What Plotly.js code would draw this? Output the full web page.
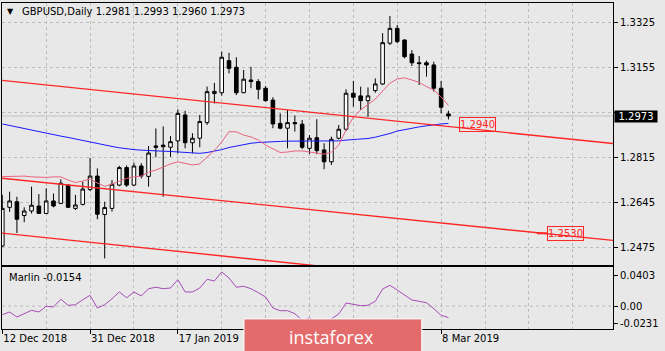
<!DOCTYPE html>
<html><head><meta charset="utf-8">
<script src="https://cdn.plot.ly/plotly-3.0.1.min.js"></script>
<style>html,body{margin:0;padding:0;background:#e8e8e8;}#chart{width:665px;height:351px;}</style>
</head><body><div id="chart"></div>
<script>
const symbolTitle = 'GBPUSD,Daily';
const dates = ['12 Dec 2018','13 Dec 2018','14 Dec 2018','17 Dec 2018','18 Dec 2018','19 Dec 2018','20 Dec 2018','21 Dec 2018','24 Dec 2018','26 Dec 2018','27 Dec 2018','28 Dec 2018','31 Dec 2018',
'2 Jan 2019','3 Jan 2019','4 Jan 2019','7 Jan 2019','8 Jan 2019','9 Jan 2019','10 Jan 2019','11 Jan 2019','14 Jan 2019','15 Jan 2019','16 Jan 2019','17 Jan 2019','18 Jan 2019','21 Jan 2019','22 Jan 2019','23 Jan 2019','24 Jan 2019','25 Jan 2019','28 Jan 2019','29 Jan 2019','30 Jan 2019','31 Jan 2019',
'1 Feb 2019','4 Feb 2019','5 Feb 2019','6 Feb 2019','7 Feb 2019','8 Feb 2019','11 Feb 2019','12 Feb 2019','13 Feb 2019','14 Feb 2019','15 Feb 2019','18 Feb 2019','19 Feb 2019','20 Feb 2019','21 Feb 2019','22 Feb 2019','25 Feb 2019','26 Feb 2019','27 Feb 2019','28 Feb 2019',
'1 Mar 2019','4 Mar 2019','5 Mar 2019','6 Mar 2019','7 Mar 2019','8 Mar 2019','11 Mar 2019'];
const openP = [1.2482,1.2628,1.2649,1.2597,1.2614,1.2633,1.2605,1.2652,1.2643,1.2712,1.2624,1.2639,1.2695,1.2746,1.2601,1.2624,1.2712,1.2778,1.2712,1.2784,1.2745,1.2860,1.2863,1.2855,1.2879,1.2977,1.2872,1.2889,1.2948,1.3058,1.3061,1.3182,1.3157,1.3061,1.3109,1.3103,1.3078,1.3033,1.2945,1.2927,1.2948,1.2942,1.2851,1.2891,1.2845,1.2800,1.2889,1.2923,1.3059,1.3049,1.3031,1.3069,1.3094,1.3248,1.3304,1.3260,1.3207,1.3174,1.3174,1.3166,1.3078,1.2981];
const highP = [1.2675,1.2687,1.2668,1.2628,1.2706,1.2678,1.2700,1.2680,1.2734,1.2714,1.2675,1.2725,1.2815,1.2775,1.2649,1.2731,1.2785,1.2786,1.2797,1.2795,1.2860,1.2926,1.2934,1.2897,1.2998,1.2993,1.2908,1.2977,1.3084,1.3098,1.3216,1.3212,1.3195,1.3147,1.3159,1.3112,1.3086,1.3044,1.2983,1.2996,1.2975,1.2958,1.2901,1.2961,1.2870,1.2895,1.2939,1.3074,1.3106,1.3084,1.3081,1.3115,1.3286,1.3351,1.3317,1.3263,1.3222,1.3200,1.3182,1.3178,1.3106,1.2993];
const lowP = [1.2478,1.2611,1.2531,1.2572,1.2605,1.2605,1.2603,1.2628,1.2640,1.2626,1.2618,1.2635,1.2690,1.2583,1.2435,1.2612,1.2708,1.2705,1.2708,1.2737,1.2706,1.2817,1.2668,1.2819,1.2832,1.2851,1.2832,1.2855,1.2939,1.3020,1.3050,1.3134,1.3052,1.3059,1.3078,1.3036,1.3027,1.2927,1.2923,1.2851,1.2914,1.2848,1.2829,1.2829,1.2772,1.2788,1.2884,1.2916,1.3008,1.2996,1.2970,1.3061,1.3090,1.3241,1.3248,1.3191,1.3162,1.3090,1.3122,1.3065,1.2983,1.2960];
const closeP = [1.2624,1.2652,1.2583,1.2614,1.2636,1.2605,1.2652,1.2633,1.2719,1.2628,1.2637,1.2697,1.2746,1.2602,1.2627,1.2715,1.2778,1.2712,1.2784,1.2746,1.2833,1.2855,1.2857,1.2876,1.2983,1.2872,1.2889,1.2952,1.3065,1.3066,1.3195,1.3153,1.3061,1.3112,1.3103,1.3074,1.3031,1.2943,1.2927,1.2948,1.2944,1.2855,1.2889,1.2842,1.2800,1.2885,1.2923,1.3059,1.3044,1.3031,1.3049,1.3094,1.3250,1.3304,1.3254,1.3197,1.3174,1.3171,1.3166,1.3078,1.3006,1.2973];
const maSlow = [1.2943,1.2937,1.2931,1.2925,1.2919,1.2914,1.2909,1.2903,1.2897,1.2892,1.2886,1.2880,1.2875,1.2869,1.2863,1.2858,1.2853,1.2849,1.2846,1.2844,1.2842,1.2841,1.2840,1.2839,1.2837,1.2835,1.2833,1.2832,1.2835,1.2840,1.2846,1.2854,1.2860,1.2865,1.2870,1.2873,1.2875,1.2876,1.2877,1.2878,1.2878,1.2879,1.2879,1.2878,1.2877,1.2878,1.2879,1.2882,1.2884,1.2886,1.2888,1.2893,1.2899,1.2907,1.2916,1.2922,1.2928,1.2932,1.2936,1.2940,1.2943,1.2945];
const maFast = [1.2744,1.2744,1.2745,1.2746,1.2743,1.2741,1.2741,1.2743,1.2743,1.2731,1.2722,1.2727,1.2735,1.2720,1.2707,1.2716,1.2726,1.2737,1.2743,1.2746,1.2761,1.2769,1.2780,1.2792,1.2800,1.2795,1.2788,1.2792,1.2818,1.2843,1.2875,1.2914,1.2913,1.2901,1.2894,1.2882,1.2863,1.2848,1.2835,1.2837,1.2841,1.2841,1.2837,1.2835,1.2829,1.2837,1.2863,1.2920,1.2969,1.2996,1.3015,1.3037,1.3067,1.3097,1.3113,1.3117,1.3109,1.3100,1.3084,1.3071,1.3045,1.3013];
const marlin = [-0.0116,-0.0079,-0.0147,-0.0102,-0.0057,-0.0079,-0.0003,-0.0012,0.0091,0.0010,0.0018,0.0085,0.0144,-0.0026,0.0018,0.0099,0.0189,0.0112,0.0189,0.0135,0.0233,0.0252,0.0233,0.0242,0.0353,0.0189,0.0189,0.0242,0.0359,0.0336,0.0457,0.0376,0.0252,0.0265,0.0233,0.0179,0.0122,-0.0026,-0.0062,-0.0062,-0.0102,-0.0191,-0.0160,-0.0214,-0.0227,-0.0173,-0.0106,0.0041,0.0018,0.0005,0.0010,0.0064,0.0229,0.0278,0.0215,0.0142,0.0081,0.0064,0.0045,-0.0035,-0.0124,-0.0154];
// channel lines (bar-index endpoints, price endpoints)
const trendIdx = [-0.5, 83.5];
const upperLine = [1.3109, 1.2869];
const middleLine = [1.2739, 1.2503];
const lowerLine = [1.2532, 1.2291];
const levelValues = [1.2940, 1.2530];
const priceTicks = [1.2475, 1.2645, 1.2815, 1.2985, 1.3155, 1.3325];
const hiddenPriceTick = 1.2985;   // covered by the current-price box in the reference
const marlinTicks = [-0.0231, 0, 0.0403];
const marlinTickText = ['-0.0231', '0.00', '0.0403'];
const dateTickIdx = [0, 12, 24, 36, 48, 60];
const hiddenDateTickIdx = [36, 48]; // covered by the watermark in the reference

const idx = dates.map((d, i) => i);
const F = 'DejaVu Sans';
const gridC = '#bcbcbc';
const last = closeP.length - 1;
const redC = '#ff2626';

const traces = [
  {type:'candlestick', x: idx, open: openP, high: highP, low: lowP, close: closeP, xaxis:'x', yaxis:'y',
   increasing:{line:{color:'#000000', width:1}, fillcolor:'#ffffff'},
   decreasing:{line:{color:'#000000', width:1}, fillcolor:'#000000'},
   whiskerwidth:0, hoverinfo:'skip', showlegend:false},
  {type:'scatter', mode:'lines', x: idx, y: maSlow, xaxis:'x', yaxis:'y', line:{color:'#1a1aff', width:1}, hoverinfo:'skip', showlegend:false},
  {type:'scatter', mode:'lines', x: idx, y: maFast, xaxis:'x', yaxis:'y', line:{color:'rgb(232,98,128)', width:1}, hoverinfo:'skip', showlegend:false},
  {type:'scatter', mode:'lines', x: trendIdx, y: upperLine, xaxis:'x', yaxis:'y', line:{color:redC, width:1.4}, hoverinfo:'skip', showlegend:false},
  {type:'scatter', mode:'lines', x: trendIdx, y: middleLine, xaxis:'x', yaxis:'y', line:{color:redC, width:1.4}, hoverinfo:'skip', showlegend:false},
  {type:'scatter', mode:'lines', x: trendIdx, y: lowerLine, xaxis:'x', yaxis:'y', line:{color:redC, width:1.4}, hoverinfo:'skip', showlegend:false},
  {type:'scatter', mode:'lines', x: idx, y: marlin, xaxis:'x2', yaxis:'y2', line:{color:'#a64bb8', width:1}, hoverinfo:'skip', showlegend:false}
];

const xRange = [-0.04, 83.5];
const layout = {
  width:665, height:351,
  margin:{l:2, r:52, t:3, b:22},
  paper_bgcolor:'#e8e8e8', plot_bgcolor:'#e8e8e8',
  showlegend:false,
  font:{family:F, size:10, color:'#000'},
  xaxis:{domain:[0,1], anchor:'y', range:xRange, tickmode:'linear', tick0:0, dtick:6,
    showticklabels:false, ticks:'', showgrid:true, gridcolor:gridC, griddash:'dot', gridwidth:1,
    zeroline:false, showline:true, mirror:true, linecolor:'#000', linewidth:1,
    rangeslider:{visible:false}, fixedrange:true},
  yaxis:{domain:[0.1963,1], anchor:'x', side:'right', range:[1.24101,1.33999],
    tickmode:'array', tickvals:priceTicks, ticktext:priceTicks.map(v=>v===hiddenPriceTick?'':v.toFixed(4)),
    ticks:'outside', ticklen:4, tickcolor:'#000', showgrid:true, gridcolor:gridC, griddash:'dot',
    zeroline:false, showline:true, mirror:true, linecolor:'#000', linewidth:1,
    tickfont:{family:F, size:10, color:'#000'}, fixedrange:true},
  xaxis2:{domain:[0,1], anchor:'y2', matches:'x', range:xRange,
    tickmode:'array', tickvals:dateTickIdx, ticktext:dateTickIdx.map(i=>hiddenDateTickIdx.includes(i)?'':dates[i]),
    ticks:'outside', ticklen:4, tickcolor:'#000', ticklabelposition:'outside right',
    showgrid:true, gridcolor:gridC, griddash:'dot',
    minor:{tick0:0, dtick:6, showgrid:true, gridcolor:gridC, griddash:'dot', ticks:''},
    zeroline:false, showline:true, mirror:true, linecolor:'#000', linewidth:1,
    tickfont:{family:F, size:10, color:'#000'}, fixedrange:true},
  yaxis2:{domain:[0,0.1902], anchor:'x2', side:'right', range:[-0.03075,0.05237],
    tickmode:'array', tickvals:marlinTicks, ticktext:marlinTickText,
    ticks:'outside', ticklen:4, tickcolor:'#000', showgrid:false, zeroline:false,
    showline:true, mirror:true, linecolor:'#000', linewidth:1,
    tickfont:{family:F, size:10, color:'#000'}, fixedrange:true},
  shapes:[
    {type:'line', xref:'x domain', x0:0, x1:1, yref:'y', y0:closeP[last], y1:closeP[last], line:{color:'#c2c2c2', width:1}, layer:'below'},
    {type:'line', xref:'x2 domain', x0:0, x1:1, yref:'y2', y0:0, y1:0, line:{color:gridC, width:1, dash:'dot'}, layer:'below'},
    {type:'line', xref:'x', x0:73.1, x1:74.5, yref:'y', y0:levelValues[1], y1:levelValues[1], line:{color:redC, width:2}},
    {type:'rect', xref:'paper', yref:'paper', x0:0.396, x1:0.687, y0:-0.075, y1:0.031, fillcolor:'#e46b6b', line:{color:'#ffffff', width:1}, layer:'above'}
  ],
  annotations:[
    {xref:'paper', yref:'paper', x:0.0147, y:0.9724, text:'▼', showarrow:false, xanchor:'center', yanchor:'middle', font:{family:F, size:8, color:'#000'}},
    {xref:'paper', yref:'paper', x:0.0295, y:0.9724, text:symbolTitle+' '+[openP[last],highP[last],lowP[last],closeP[last]].map(v=>v.toFixed(4)).join(' '), showarrow:false, xanchor:'left', yanchor:'middle', font:{family:F, size:10, color:'#000'}},
    {xref:'paper', yref:'y', x:1, xshift:1, y:closeP[last], text:closeP[last].toFixed(4), showarrow:false, xanchor:'left', yanchor:'middle', bgcolor:'#000000', width:42, height:11, borderpad:0, font:{family:F, size:10, color:'#ffffff'}},
    {xref:'x', yref:'y', x:62.4, y:levelValues[0], text:levelValues[0].toFixed(4), showarrow:false, xanchor:'left', yanchor:'middle', bordercolor:redC, borderwidth:1, borderpad:0, width:35, height:13, font:{family:F, size:10, color:redC}},
    {xref:'x', yref:'y', x:74.5, y:levelValues[1], text:levelValues[1].toFixed(4), showarrow:false, xanchor:'left', yanchor:'middle', bordercolor:redC, borderwidth:1, borderpad:0, width:35, height:13, font:{family:F, size:10, color:redC}},
    {xref:'paper', yref:'paper', x:0.0077, y:0.1595, text:'Marlin '+marlin[last].toFixed(4), showarrow:false, xanchor:'left', yanchor:'middle', font:{family:F, size:10, color:'#000'}},
    {xref:'paper', yref:'paper', x:0.540, y:-0.0245, text:'instaforex', showarrow:false, xanchor:'center', yanchor:'middle', font:{family:'Open Sans', size:18, color:'#ffffff'}}
  ]
};
Plotly.newPlot('chart', traces, layout, {staticPlot:true, displayModeBar:false});
</script>
</body></html>
